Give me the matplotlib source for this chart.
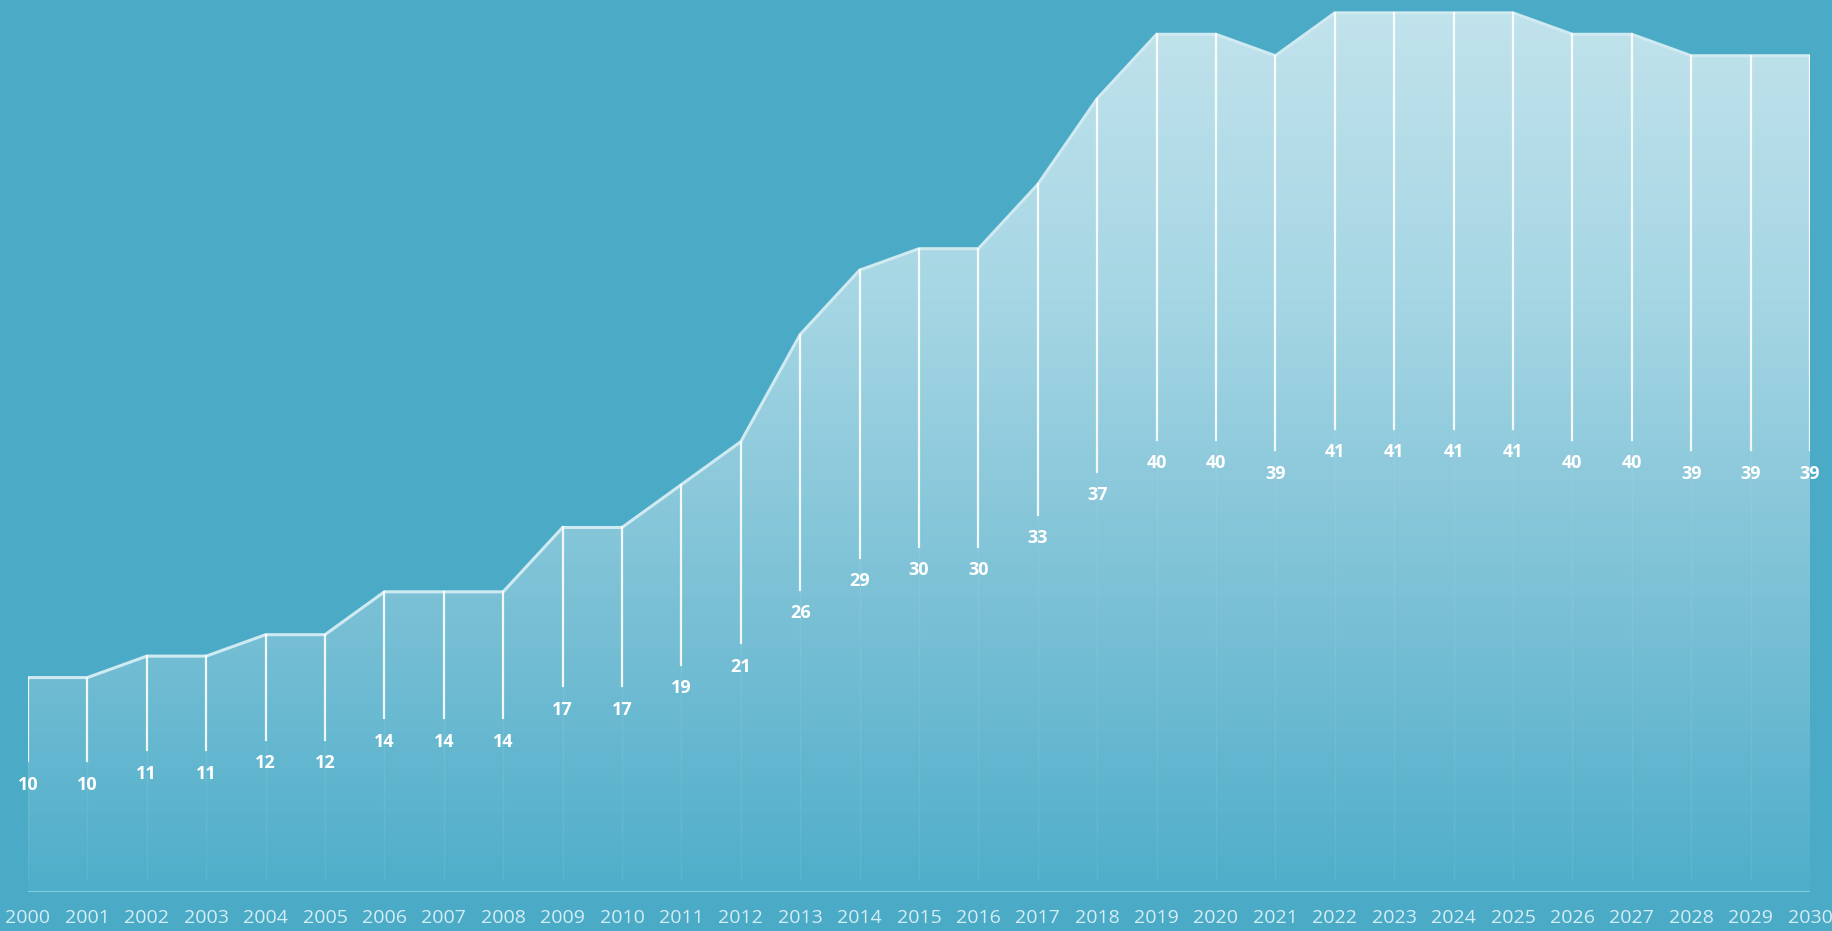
import numpy as np
import matplotlib
matplotlib.use("Agg")
import matplotlib.pyplot as plt
from matplotlib.colors import LinearSegmentedColormap

years = list(range(2000, 2031))
values = [10, 10, 11, 11, 12, 12, 14, 14, 14, 17, 17, 19, 21, 26, 29, 30, 30, 33, 37,
          40, 40, 39, 41, 41, 41, 41, 40, 40, 39, 39, 39]

bg = "#4BABC7"
W, H = 1833, 931
fig = plt.figure(figsize=(W / 100, H / 100), dpi=100, facecolor=bg)
ax = fig.add_axes([28 / W, 1 - 892 / H, (1810 - 28) / W, 892 / H])
ax.set_facecolor(bg)
ax.set_xlim(2000, 2030)
ymax = 41.6
ax.set_ylim(0, ymax)
for s in ax.spines.values():
    s.set_visible(False)
ax.set_yticks([])
ax.tick_params(axis="x", length=0, pad=12, labelsize=14, labelcolor="#D4EDF4")
ax.set_xticks(years)
ax.set_xticklabels([str(y) for y in years], fontfamily="Open Sans")

# gradient-filled area
x = np.array(years, dtype=float)
y = np.array(values, dtype=float)
poly = ax.fill_between(x, 0, y, facecolor="none", edgecolor="none")
cmap = LinearSegmentedColormap.from_list("g", ["#4FAECA", "#7CC1D6", "#A6D6E4", "#C2E3EC"])
grad = np.linspace(0, 1, 256).reshape(-1, 1)
im = ax.imshow(grad, cmap=cmap, aspect="auto", extent=[2000, 2030, 0, ymax],
               origin="lower", zorder=1)
path = poly.get_paths()[0]
im.set_clip_path(path, transform=ax.transData)

# top edge
ax.plot(x, y, color="#CFEAF1", lw=2.2, zorder=3, solid_joinstyle="round")

# baseline
ax.plot([2000, 2030], [0, 0], color="#8FD0E2", lw=1.2, zorder=3)

# drop lines and labels
for xi, v in zip(x, y):
    ax.plot([xi, xi], [v, v / 2 + 1.1], color="white", lw=1.6, alpha=0.9, zorder=4)
    ax.plot([xi, xi], [v / 2 + 1.1, 0.6], color="white", lw=1.0, alpha=0.07, zorder=4)
    ax.text(xi, v / 2, f"{int(v)}", ha="center", va="center", color="white",
            fontsize=13, fontweight="bold", fontfamily="Open Sans", zorder=5)

fig.savefig("out.png", dpi=100, facecolor=bg)
